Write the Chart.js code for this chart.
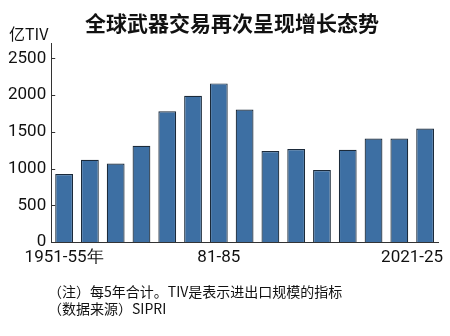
<!DOCTYPE html>
<html>
<head>
<meta charset="utf-8">
<script src="https://cdn.jsdelivr.net/npm/chart.js@4.4.0/dist/chart.umd.min.js"></script>
<style>
  body { margin: 0; background: #fff; }
  #wrap { position: relative; width: 450px; height: 336px; overflow: hidden; }
  #chart { position: absolute; left: 0; top: 0; }
  .txt { position: absolute; font-family: "Noto Sans CJK SC", sans-serif; color: #111; white-space: nowrap; }
  #title { left: 0; width: 464px; top: 8px; text-align: center; font-size: 21px; font-weight: 700; line-height: 28px; }
  #unit { left: 9px; top: 23px; font-size: 16px; line-height: 20px; }
  #note1 { left: 48px; top: 282px; font-size: 14px; line-height: 18px; }
  #note2 { left: 48px; top: 299px; font-size: 14px; line-height: 18px; }
</style>
</head>
<body>
<div id="wrap">
  <canvas id="chart" width="450" height="336"></canvas>
  <div class="txt" id="title">全球武器交易再次呈现增长态势</div>
  <div class="txt" id="unit">亿TIV</div>
  <div class="txt" id="note1">（注）每5年合计。TIV是表示进出口规模的指标</div>
  <div class="txt" id="note2">（数据来源）SIPRI</div>
</div>
<script>
var periods = ['1951-55', '1956-60', '1961-65', '1966-70', '1971-75', '1976-80', '1981-85', '1986-90',
    '1991-95', '1996-2000', '2001-05', '2006-10', '2011-15', '2016-20', '2021-25'];
var tivValues = [925, 1120, 1070, 1310, 1780, 1990, 2160, 1805, 1240, 1265, 980, 1255, 1410, 1410, 1545];
var yTicks = [0, 500, 1000, 1500, 2000, 2500];
// which categories get a label under the axis, and a nudge (px) for the last one
var shownLabels = [
    { index: 0, text: '1951-55年', shift: 0 },
    { index: 6, text: '81-85', shift: 0 },
    { index: 14, text: '2021-25', shift: -13 }
];

var axisFamily = "Roboto, sans-serif";

// x labels drawn at the category positions, so the last one can sit a bit left
var xLabels = {
    id: 'xLabels',
    afterDraw: function (chart) {
        var c = chart.ctx;
        var x = chart.scales.x;
        c.save();
        c.fillStyle = '#111';
        c.font = '17px ' + axisFamily;
        c.textAlign = 'center';
        c.textBaseline = 'top';
        shownLabels.forEach(function (l) {
            c.fillText(l.text, x.getPixelForValue(l.index) + l.shift, x.bottom + 7);
        });
        c.restore();
    }
};

// short tick marks pointing into the plot from the y axis
var innerTicks = {
    id: 'innerTicks',
    afterDraw: function (chart) {
        var c = chart.ctx;
        var y = chart.scales.y;
        c.save();
        c.strokeStyle = '#333';
        c.lineWidth = 1;
        y.ticks.forEach(function (t) {
            var py = Math.round(y.getPixelForValue(t.value)) + 0.5;
            c.beginPath();
            c.moveTo(chart.chartArea.left, py);
            c.lineTo(chart.chartArea.left + 4, py);
            c.stroke();
        });
        c.restore();
    }
};

var ctx = document.getElementById('chart').getContext('2d');
var myChart = new Chart(ctx, {
    type: 'bar',
    data: {
        labels: periods,
        datasets: [{
            data: tivValues,
            backgroundColor: '#3d6fa3',
            borderColor: '#1b2a3a',
            borderWidth: 1.2,
            barPercentage: 0.69,
            categoryPercentage: 1
        }]
    },
    options: {
        responsive: false,
        animation: false,
        layout: { padding: { top: 43, right: 12, left: 3, bottom: 94 } },
        plugins: {
            legend: { display: false },
            tooltip: { enabled: false }
        },
        scales: {
            x: {
                grid: { display: false, drawTicks: false },
                border: { color: '#333', width: 1 },
                ticks: { display: false }
            },
            y: {
                min: 0,
                max: 2710,
                afterBuildTicks: function (scale) {
                    scale.ticks = yTicks.map(function (v) { return { value: v }; });
                },
                grid: { display: false, drawTicks: false },
                border: { color: '#333', width: 1 },
                ticks: {
                    padding: 5,
                    color: '#111',
                    font: { family: axisFamily, size: 17 },
                    callback: function (v) { return String(v); }
                }
            }
        }
    },
    plugins: [xLabels, innerTicks]
});
</script>
</body>
</html>
